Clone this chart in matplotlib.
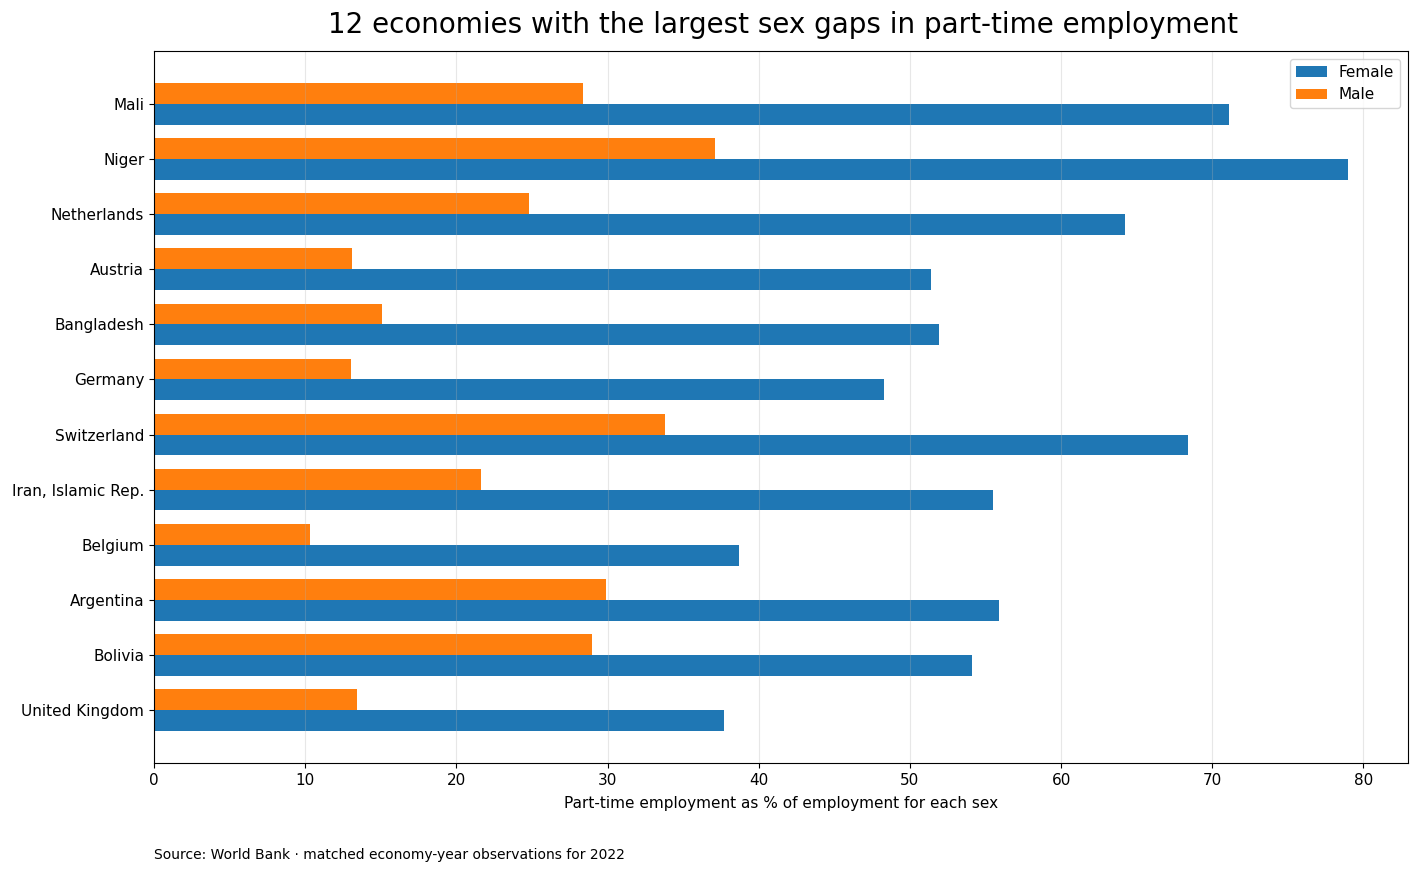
import matplotlib
matplotlib.use("Agg")
import matplotlib.pyplot as plt
import numpy as np

countries = ["Mali", "Niger", "Netherlands", "Austria", "Bangladesh", "Germany",
             "Switzerland", "Iran, Islamic Rep.", "Belgium", "Argentina",
             "Bolivia", "United Kingdom"]
female = [71.1, 79.0, 64.2, 51.4, 51.9, 48.3, 68.4, 55.5, 38.7, 55.9, 54.1, 37.7]
male = [28.4, 37.1, 24.8, 13.1, 15.1, 13.0, 33.8, 21.6, 10.3, 29.9, 29.0, 13.4]

fig = plt.figure(figsize=(14.18, 8.73), dpi=100)
ax = fig.add_axes([0.1086, 0.126, 0.8844, 0.8156])

y = np.arange(len(countries))
h = 0.38
ax.barh(y + h / 2, female, height=h, color="#1f77b4", label="Female")
ax.barh(y - h / 2, male, height=h, color="#ff7f0e", label="Male")

ax.set_yticks(y)
ax.set_yticklabels(countries, fontsize=11)
ax.invert_yaxis()
ax.tick_params(axis="x", labelsize=11)
ax.grid(axis="x", alpha=0.3)
ax.set_xlabel("Part-time employment as % of employment for each sex",
              fontsize=11, labelpad=6)
ax.legend(loc="upper right", fontsize=11)

fig.suptitle("12 economies with the largest sex gaps in part-time employment",
             fontsize=20, y=0.987, x=0.552)
fig.text(0.1086, 0.016, "Source: World Bank · matched economy-year observations for 2022",
         fontsize=10)

fig.savefig("out.png", dpi=100)
